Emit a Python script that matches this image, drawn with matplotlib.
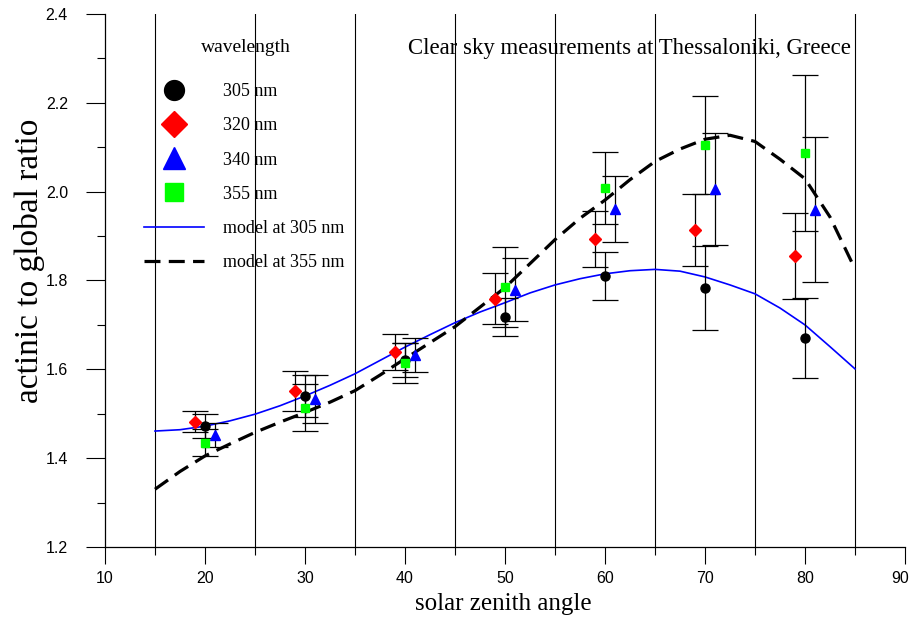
import numpy as np
import matplotlib
matplotlib.use("Agg")
import matplotlib.pyplot as plt
import matplotlib.transforms as mtransforms

plt.rcParams['font.family'] = ['Liberation Sans', 'DejaVu Sans']
SERIF = ['Liberation Serif', 'DejaVu Serif']

# ---- data ----
sza = np.array([20, 30, 40, 50, 60, 70, 80])

r305 = [1.473, 1.540, 1.621, 1.718, 1.810, 1.783, 1.671]
e305 = [0.027, 0.048, 0.038, 0.043, 0.055, 0.095, 0.090]
r320 = [1.482, 1.552, 1.639, 1.759, 1.894, 1.914, 1.855]
e320 = [0.024, 0.045, 0.040, 0.058, 0.063, 0.081, 0.097]
r340 = [1.453, 1.534, 1.633, 1.779, 1.961, 2.006, 1.959]
e340 = [0.027, 0.054, 0.038, 0.071, 0.074, 0.126, 0.163]
r355 = [1.435, 1.513, 1.615, 1.786, 2.008, 2.105, 2.087]
e355 = [0.030, 0.053, 0.045, 0.090, 0.081, 0.110, 0.175]

# small horizontal offsets used in the figure to separate wavelengths
off320, off305, off340, off355 = -1, 0, 1, 0

model_sza = [15, 17.5, 20, 22.5, 25, 27.5, 30, 32.5, 35, 37.5, 40, 42.5, 45,
             47.5, 50, 52.5, 55, 57.5, 60, 62.5, 65, 67.5, 70, 72.5, 75,
             77.5, 80, 82.5, 85]
model305 = [1.461, 1.464, 1.472, 1.484, 1.499, 1.518, 1.540, 1.564, 1.590,
            1.620, 1.650, 1.678, 1.705, 1.729, 1.750, 1.772, 1.790, 1.804,
            1.815, 1.822, 1.825, 1.821, 1.808, 1.790, 1.770, 1.738, 1.700,
            1.651, 1.601]
model355 = [1.330, 1.370, 1.405, 1.432, 1.458, 1.481, 1.503, 1.526, 1.552,
            1.587, 1.624, 1.660, 1.696, 1.740, 1.784, 1.838, 1.892, 1.940,
            1.981, 2.027, 2.068, 2.096, 2.118, 2.127, 2.113, 2.073, 2.029,
            1.943, 1.826]

xticks = [10, 20, 30, 40, 50, 60, 70, 80, 90]
yticks = [1.2, 1.4, 1.6, 1.8, 2.0, 2.2, 2.4]

# ---- figure ----
fig = plt.figure(figsize=(9.1, 6.17), dpi=100)
ax = fig.add_axes([0.1154, 0.1135, 0.8791, 0.8638])
ax.set_xlim(10, 90)
ax.set_ylim(1.2, 2.4)
for s in ('top', 'right'):
    ax.spines[s].set_visible(False)
for s in ('left', 'bottom'):
    ax.spines[s].set_linewidth(0.9)

ax.set_xticks(xticks)
ax.set_xticklabels([str(v) for v in xticks])
ax.set_xticks(np.arange(15, 90, 10), minor=True)
ax.set_yticks(yticks)
ax.set_yticklabels([f"{v:.1f}" for v in yticks])
ax.set_yticks(np.arange(1.3, 2.4, 0.2), minor=True)
ax.xaxis.grid(True, which='minor', color='black', lw=0.8, zorder=0)
ax.set_axisbelow(True)
ax.tick_params(axis='x', which='major', direction='out', length=12, width=0.8,
               pad=5, labelsize=11.5)
ax.tick_params(axis='x', which='minor', direction='out', length=6, width=0.8)
ax.tick_params(axis='y', which='major', direction='out', length=13.7, width=0.8,
               pad=13, labelsize=11.5)
ax.tick_params(axis='y', which='minor', direction='out', length=5.8, width=0.8)

# keep the last x tick label inside the canvas
last = ax.get_xticklabels()[-1]
last.set_transform(last.get_transform() +
                   mtransforms.ScaledTranslation(-5 / 100, 0, fig.dpi_scale_trans))

# model curves
l305, = ax.plot(model_sza, model305, color='#0000ff', lw=1.2, zorder=3,
                label='model at 305 nm')
l355, = ax.plot(model_sza, model355, color='black', lw=2.3, zorder=3,
                dashes=(5, 2.6), label='model at 355 nm')

eb_kw = dict(fmt='none', ecolor='black', elinewidth=0.9, capsize=9.5,
             capthick=0.9, zorder=4)
ax.errorbar(sza + off320, r320, yerr=e320, **eb_kw)
ax.errorbar(sza + off305, r305, yerr=e305, **eb_kw)
ax.errorbar(sza + off340, r340, yerr=e340, **eb_kw)
ax.errorbar(sza + off355, r355, yerr=e355, **eb_kw)

p305, = ax.plot(sza + off305, r305, 'o', color='black', ms=6.5, ls='none',
                zorder=5, label='305 nm')
p320, = ax.plot(sza + off320, r320, 'D', color='#ff0000', ms=6, ls='none',
                zorder=5, label='320 nm')
p340, = ax.plot(sza + off340, r340, '^', color='#0000ff', ms=7.5, ls='none',
                zorder=5, label='340 nm')
p355, = ax.plot(sza + off355, r355, 's', color='#00ff00', ms=6, ls='none',
                zorder=5, label='355 nm')

leg = ax.legend(handles=[p305, p320, p340, p355, l305, l355],
                loc='upper left',
                bbox_to_anchor=(0.049, 0.870), borderaxespad=0, borderpad=0,
                frameon=False, markerscale=2.2, handlelength=3.3,
                handletextpad=1.05, labelspacing=0.95,
                prop={'family': SERIF, 'size': 13})

ax.text(0.176, 0.9375, 'wavelength', transform=ax.transAxes,
        ha='center', va='center', fontsize=14, family=SERIF)

ax.text(62.4, 2.323, 'Clear sky measurements at Thessaloniki, Greece',
        ha='center', va='center', fontsize=16.4, family=SERIF)

ax.set_xlabel('solar zenith angle', fontsize=18, family=SERIF)
ax.set_ylabel('actinic to global ratio', fontsize=24, family=SERIF)
ax.xaxis.set_label_coords(0.4975, -0.086)
ax.yaxis.set_label_coords(-0.075, 0.537)

fig.savefig('out.png', dpi=100)
